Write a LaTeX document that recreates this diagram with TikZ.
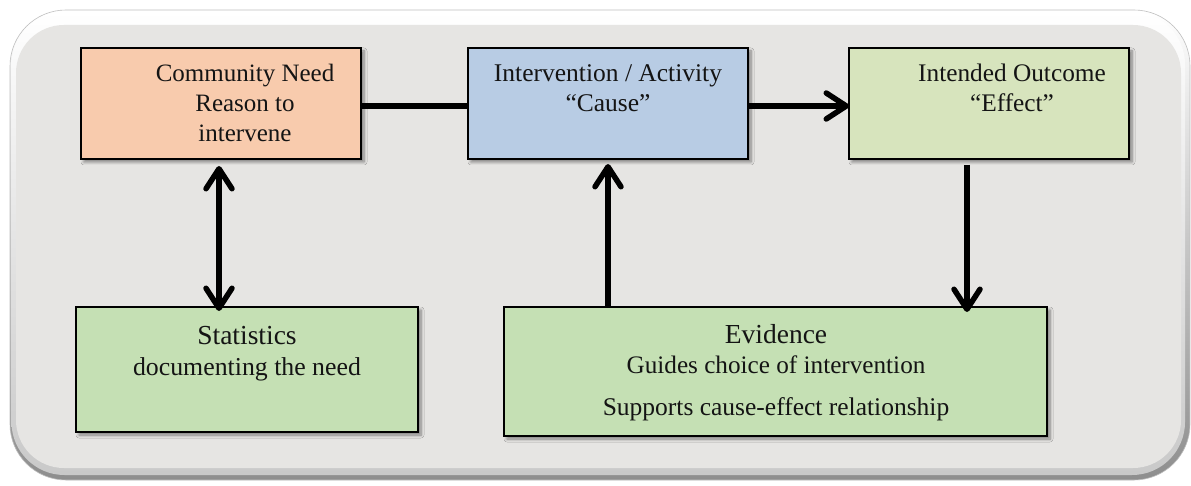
\documentclass[tikz,border=0pt]{standalone}
\usepackage{fontspec}
\setmainfont{Liberation Serif}
\usetikzlibrary{arrows.meta,shadows.blur}

\definecolor{panelfill}{HTML}{E6E5E3}
\definecolor{rimdark}{HTML}{8E8E8E}
\definecolor{rimmid}{HTML}{C9C9C9}
\definecolor{needfill}{HTML}{F8CBAD}
\definecolor{causefill}{HTML}{B8CCE4}
\definecolor{effectfill}{HTML}{D7E4BD}
\definecolor{greenfill}{HTML}{C5E0B4}
\definecolor{inkc}{HTML}{141414}

\newcommand{\fs}[1]{\fontsize{#1}{#1}\selectfont}

\begin{document}
\begin{tikzpicture}[x=1pt,y=-1pt,
  box/.style={draw=black, line width=2pt, inner sep=0pt, outer sep=0pt,
    blur shadow={shadow xshift=3pt, shadow yshift=-3pt, shadow blur steps=6,
      shadow blur radius=3pt, shadow opacity=45}},
  txt/.style={anchor=base, inner sep=0pt, text=inkc},
  conn/.style={line width=5.5pt, draw=black},
  tip/.style={-{Straight Barb[length=20pt,width=26pt,round]}},
  twotip/.style={{Straight Barb[length=20pt,width=26pt,round]}-{Straight Barb[length=20pt,width=26pt,round]}}
]
\useasboundingbox (0,0) rectangle (1191,486);
\fill[white] (0,0) rectangle (1191,486);

% bevelled background panel: dark outer rim, lighter inner rim, flat face
\path[top color=white, bottom color=rimdark, draw=gray!50, line width=0.6pt,
      rounded corners=56pt] (10,10) rectangle (1190,480);
\path[top color=white, bottom color=rimmid, rounded corners=53pt]
      (11.5,11.5) rectangle (1185,475);
\path[fill=panelfill, rounded corners=48pt] (16,25) rectangle (1181,468);

% boxes
\node[box, fill=needfill, minimum width=280pt, minimum height=111pt] (cn) at (221,103.5) {};
\node[box, fill=causefill, minimum width=280pt, minimum height=111pt] (iv) at (608,103.5) {};
\node[box, fill=effectfill, minimum width=280pt, minimum height=111pt] (io) at (989,103.5) {};
\node[box, fill=greenfill, minimum width=342pt, minimum height=125pt] (st) at (247,369.5) {};
\node[box, fill=greenfill, minimum width=543pt, minimum height=129pt] (ev) at (775.5,371.5) {};

% box texts
\node[txt, font=\fs{25}] (cn1) at (245,82) {Community Need};
\node[txt, font=\fs{25}] (cn2) at (245,112) {Reason to};
\node[txt, font=\fs{25}] (cn3) at (245,142) {intervene};

\node[txt, font=\fs{25.5}] (iv1) at (608,82) {Intervention / Activity};
\node[txt, font=\fs{25.5}] (iv2) at (608,112) {“Cause”};

\node[txt, font=\fs{25.3}] (io1) at (1012,82) {Intended Outcome};
\node[txt, font=\fs{25.3}] (io2) at (1012,112) {“Effect”};

\node[txt, font=\fs{27.5}] (st1) at (247,344) {Statistics};
\node[txt, font=\fs{25.8}] (st2) at (247,375) {documenting the need};

\node[txt, font=\fs{27.5}] (ev1) at (776,343) {Evidence};
\node[txt, font=\fs{25.2}] (ev2) at (776,373) {Guides choice of intervention};
\node[txt, font=\fs{25.5}] (ev3) at (776,415) {Supports cause-effect relationship};

% connectors
\draw[conn] ([yshift=-2.5pt]cn.east) -- ([yshift=-2.5pt]iv.west);
\draw[conn, tip] ([yshift=-2.5pt]iv.east) -- ([yshift=-2.5pt]io.west);
\draw[conn, twotip] ([xshift=-2pt,yshift=-7pt]cn.south)
  -- ([xshift=-2pt,yshift=-4pt]cn.south |- st.north);
\draw[conn, tip] (iv.south |- ev.north) -- ([yshift=-5pt]iv.south);
\draw[conn, tip] ([xshift=-22pt,yshift=-6pt]io.south)
  -- ([xshift=-22pt,yshift=-5pt]io.south |- ev.north);
\end{tikzpicture}
\end{document}
